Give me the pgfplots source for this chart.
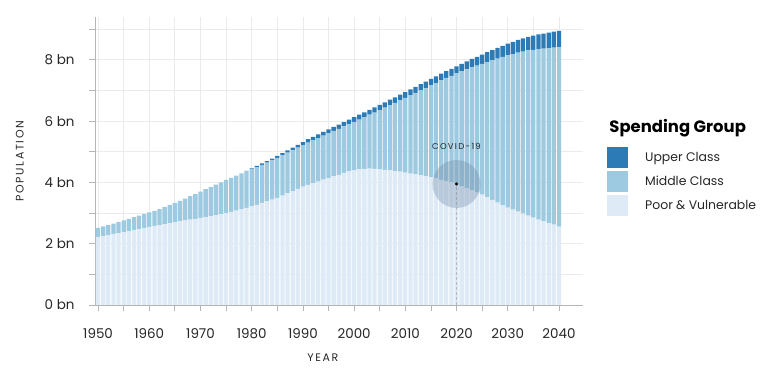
\documentclass[border=0pt]{standalone}
\usepackage{fontspec}
\setmainfont{Poppins}
\newfontfamily\spaced[LetterSpace=15]{Poppins}
\usepackage{pgfplots}
\usepackage{pgfplotstable}
\pgfplotsset{compat=1.18}
\definecolor{upper}{HTML}{2C7BB6}
\definecolor{middle}{HTML}{9ECAE1}
\definecolor{poor}{HTML}{DEEBF7}
\definecolor{gridc}{HTML}{EBEBEB}
\definecolor{axisc}{HTML}{B5B5B5}
\definecolor{covid}{HTML}{6F8AA6}

\pgfplotstableread{
year poor middle upper
1950 2.22 0.30 0
1951 2.25 0.32 0
1952 2.28 0.33 0
1953 2.32 0.34 0
1954 2.35 0.36 0
1955 2.38 0.38 0
1956 2.41 0.40 0
1957 2.45 0.42 0
1958 2.48 0.44 0
1959 2.52 0.45 0
1960 2.55 0.47 0
1961 2.58 0.49 0
1962 2.61 0.52 0
1963 2.64 0.56 0
1964 2.67 0.60 0
1965 2.70 0.63 0
1966 2.73 0.67 0
1967 2.76 0.71 0
1968 2.79 0.76 0
1969 2.81 0.81 0
1970 2.84 0.86 0
1971 2.87 0.91 0
1972 2.90 0.95 0
1973 2.93 1.00 0
1974 2.97 1.03 0
1975 3.00 1.08 0
1976 3.04 1.11 0
1977 3.08 1.14 0
1978 3.13 1.17 0
1979 3.17 1.19 0.02
1980 3.22 1.21 0.03
1981 3.27 1.23 0.04
1982 3.33 1.24 0.05
1983 3.38 1.27 0.05
1984 3.44 1.28 0.06
1985 3.50 1.30 0.07
1986 3.57 1.32 0.07
1987 3.64 1.33 0.08
1988 3.72 1.33 0.09
1989 3.79 1.35 0.09
1990 3.86 1.36 0.10
1991 3.92 1.38 0.11
1992 3.98 1.40 0.11
1993 4.03 1.42 0.12
1994 4.09 1.44 0.12
1995 4.14 1.46 0.13
1996 4.20 1.48 0.13
1997 4.25 1.50 0.14
1998 4.31 1.52 0.14
1999 4.36 1.54 0.15
2000 4.40 1.58 0.15
2001 4.43 1.62 0.16
2002 4.44 1.69 0.16
2003 4.45 1.76 0.16
2004 4.44 1.84 0.17
2005 4.43 1.93 0.17
2006 4.41 2.03 0.17
2007 4.39 2.13 0.18
2008 4.37 2.23 0.18
2009 4.35 2.33 0.19
2010 4.32 2.44 0.19
2011 4.29 2.56 0.19
2012 4.26 2.66 0.20
2013 4.23 2.78 0.20
2014 4.20 2.88 0.21
2015 4.17 3.00 0.21
2016 4.13 3.11 0.22
2017 4.08 3.25 0.22
2018 4.04 3.37 0.22
2019 4.00 3.48 0.23
2020 3.95 3.61 0.23
2021 3.88 3.75 0.24
2022 3.81 3.88 0.26
2023 3.74 4.02 0.27
2024 3.67 4.14 0.29
2025 3.60 4.27 0.30
2026 3.51 4.42 0.32
2027 3.43 4.56 0.33
2028 3.34 4.70 0.35
2029 3.26 4.84 0.36
2030 3.18 4.97 0.38
2031 3.11 5.08 0.40
2032 3.05 5.19 0.41
2033 2.98 5.29 0.43
2034 2.92 5.39 0.44
2035 2.85 5.48 0.46
2036 2.79 5.56 0.48
2037 2.73 5.64 0.49
2038 2.67 5.71 0.51
2039 2.62 5.78 0.52
2040 2.56 5.85 0.54
}\data

\begin{document}
\begin{tikzpicture}
\path[use as bounding box] (0,0) rectangle (768bp,379bp);
\begin{axis}[
  at={(95bp,74bp)}, anchor=south west, scale only axis,
  width=488bp, height=288bp,
  xmin=1949.4, xmax=2044.7, ymin=0, ymax=9.4,
  ybar stacked, bar width=0.84,
  axis x line*=bottom, axis y line*=left,
  axis line style={draw=axisc, line width=0.8bp, -},
  tick style={draw=axisc, line width=0.8bp},
  tick align=outside, major tick length=6bp,
  xtick={1950,1955,...,2040},
  xticklabels={1950,,1960,,1970,,1980,,1990,,2000,,2010,,2020,,2030,,2040},
  ytick={0,1,...,9},
  yticklabels={0 bn,,2 bn,,4 bn,,6 bn,,8 bn,},
  grid=major, grid style={draw=gridc, line width=0.8bp},
  ticklabel style={font=\fontsize{13.5}{15}\selectfont, text=black!85},
  xticklabel style={yshift=-14bp},
  yticklabel style={xshift=-11bp},
  xlabel={\spaced YEAR},
  xlabel style={at={(rel axis cs:0.467,-0.184)}, anchor=center, font=\fontsize{11}{13}\selectfont, text=black!85},
  ylabel={\spaced POPULATION},
  ylabel style={at={(rel axis cs:-0.154,0.5)}, anchor=center, rotate=0, font=\fontsize{11}{13}\selectfont, text=black!85},
  reverse legend,
  legend cell align=left,
  legend image code/.code={\fill[#1] (0bp,-10.5bp) rectangle (21bp,10.5bp);},
  legend style={at={(rel axis cs:1.049,0.549)}, anchor=north west, draw=none, fill=none,
    inner sep=0pt, row sep=3bp, font=\fontsize{12.5}{14}\selectfont, text=black!85,
    nodes={inner sep=0pt},
    /tikz/every odd column/.append style={column sep=17bp}},
]
\addplot[fill=poor, draw=none] table[x=year, y=poor] {\data};
\addlegendentry{Poor \& Vulnerable}
\addplot[fill=middle, draw=none] table[x=year, y=middle] {\data};
\addlegendentry{Middle Class}
\addplot[fill=upper, draw=none] table[x=year, y=upper] {\data};
\addlegendentry{Upper Class}
\end{axis}
\begin{axis}[
  at={(95bp,74bp)}, anchor=south west, scale only axis,
  width=488bp, height=288bp,
  xmin=1949.4, xmax=2044.7, ymin=0, ymax=9.4,
  hide axis, clip=false,
]
\addplot[densely dashed, draw=gray!55, line width=0.6bp] coordinates {(2020,0) (2020,3.95)};
\addplot[only marks, mark=*, mark size=24bp, line width=0pt, color=covid, opacity=0.35, mark options={draw opacity=0, fill=covid, fill opacity=0.35}] coordinates {(2020,3.95)};
\addplot[only marks, mark=*, mark size=1.3bp, mark options={fill=black, draw=none}] coordinates {(2020,3.95)};
\node[font=\spaced\fontsize{8.5}{10}\selectfont, text=black!85] at (axis cs:2020,5.16) {COVID-19};
\node[anchor=west, font=\fontsize{16.5}{19}\selectfont\bfseries, text=black] at (rel axis cs:1.047,0.615) {Spending Group};
\end{axis}
\end{tikzpicture}
\end{document}
